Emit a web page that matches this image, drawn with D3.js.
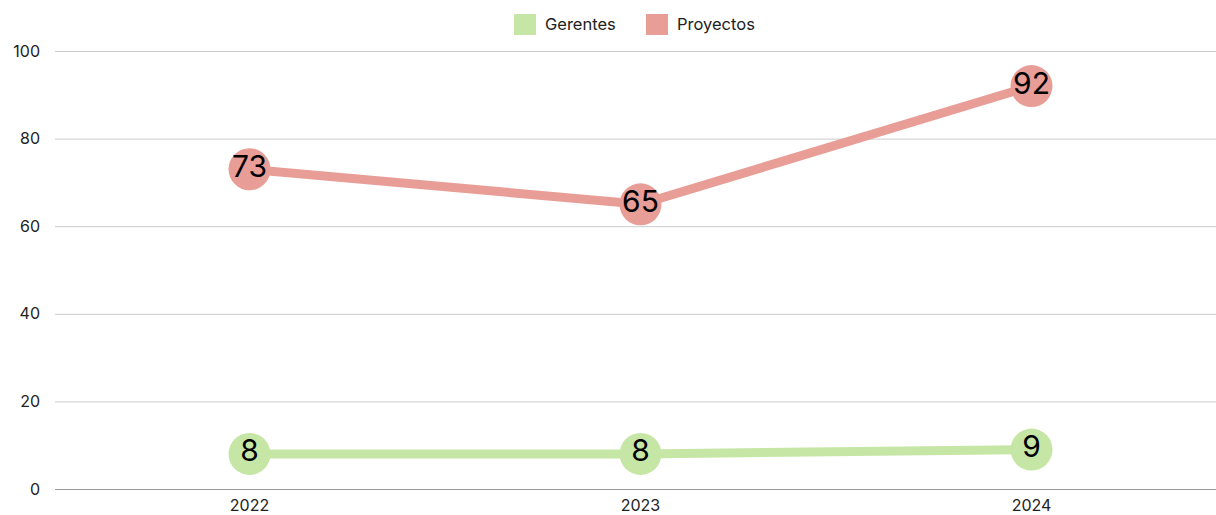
<!doctype html>
<html>
<head>
<meta charset="utf-8" />
<script src="https://cdn.jsdelivr.net/npm/d3@7"></script>
<style>
  body{margin:0;padding:0;background:#fff;}
  text{font-family:"Inter","Lato",sans-serif;}
</style>
</head>
<body>
<script>
  // dati
  var years = ["2022", "2023", "2024"];
  var gerentes = [8, 8, 9];
  var proyectos = [73, 65, 92];
  var seriesNames = ["Gerentes", "Proyectos"];
  var seriesColors = ["#c6e6a6", "#e89d96"];
  var yTicks = [0, 20, 40, 60, 80, 100];

  var width = 1216, height = 515;
  var svg = d3.select("body").append("svg").attr("width", width).attr("height", height);

  var x = d3.scaleBand().domain(years).range([54, 1227]);
  var y = d3.scaleLinear().domain([0, 100]).range([489, 51]);

  // griglia
  svg.append("g").selectAll("line").data(yTicks).enter().append("line")
    .attr("x1", 55).attr("x2", width)
    .attr("y1", function(d){ return y(d) + 0.5; }).attr("y2", function(d){ return y(d) + 0.5; })
    .attr("stroke", function(d){ return d == 0 ? "#999" : "#ccc"; })
    .attr("stroke-width", 1);

  // etichette asse y
  svg.append("g").selectAll("text").data(yTicks).enter().append("text")
    .attr("x", 40).attr("y", function(d){ return y(d); })
    .attr("dy", "0.35em").attr("text-anchor", "end")
    .attr("font-size", "16px").attr("fill", "#222")
    .text(function(d){ return d; });

  // etichette asse x
  svg.append("g").selectAll("text").data(years).enter().append("text")
    .attr("x", function(d){ return x(d) + x.bandwidth()/2; }).attr("y", 505)
    .attr("dy", "0.35em").attr("text-anchor", "middle")
    .attr("font-size", "16px").attr("fill", "#222")
    .text(function(d){ return d; });

  var series = [gerentes, proyectos];
  var line = d3.line()
    .x(function(d, i){ return x(years[i]) + x.bandwidth()/2; })
    .y(function(d){ return y(d); });

  series.forEach(function(vals, s){
    var g = svg.append("g");
    g.append("path").datum(vals).attr("d", line)
      .attr("fill", "none").attr("stroke", seriesColors[s]).attr("stroke-width", 9);
    g.selectAll("circle").data(vals).enter().append("circle")
      .attr("cx", function(d, i){ return x(years[i]) + x.bandwidth()/2; })
      .attr("cy", function(d){ return y(d); })
      .attr("r", 21).attr("fill", seriesColors[s]);
    g.selectAll("text").data(vals).enter().append("text")
      .attr("x", function(d, i){ return x(years[i]) + x.bandwidth()/2; })
      .attr("y", function(d){ return y(d) - 3; })
      .attr("dy", "0.35em").attr("text-anchor", "middle")
      .attr("font-family", "'Liberation Sans', Arial, sans-serif")
      .attr("font-size", "30px").attr("fill", "#000")
      .text(function(d){ return d; });
  });

  // legenda
  var legendX = [514, 646];
  var legend = svg.append("g");
  seriesNames.forEach(function(name, i){
    legend.append("rect").attr("x", legendX[i]).attr("y", 14).attr("width", 22).attr("height", 21)
      .attr("fill", seriesColors[i]);
    legend.append("text").attr("x", legendX[i] + 31).attr("y", 24.5).attr("dy", "0.35em")
      .attr("font-size", "16.5px").attr("fill", "#222").text(name);
  });
</script>
</body>
</html>
